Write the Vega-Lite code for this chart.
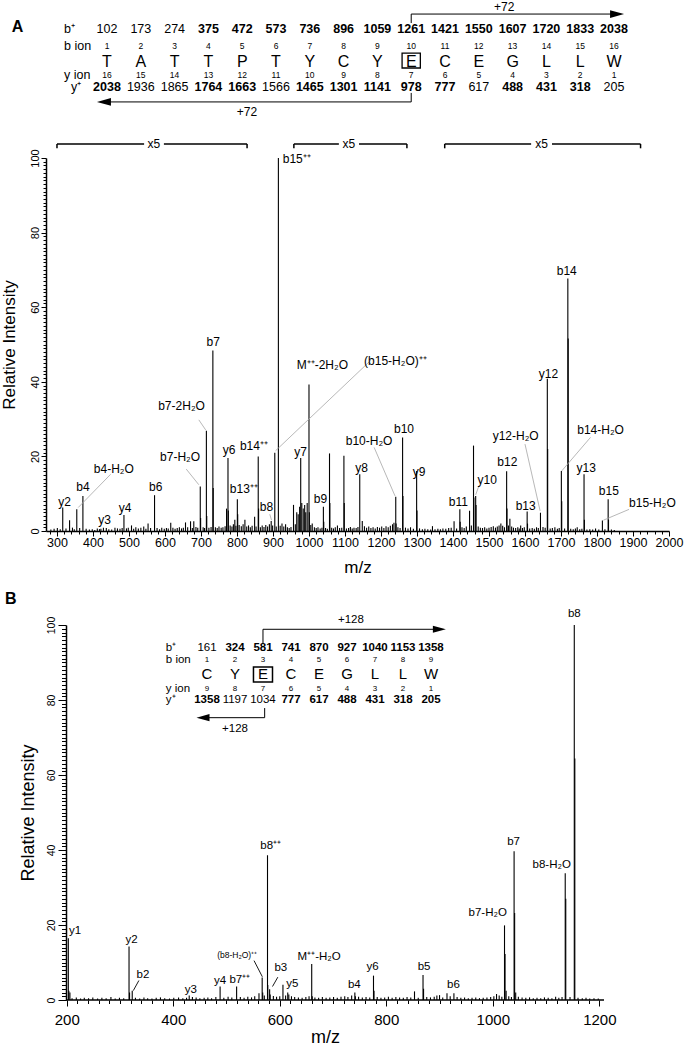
{
"$schema": "https://vega.github.io/schema/vega-lite/v6.json",
"padding": {"left": 0, "top": 0, "right": 2, "bottom": 0},
"spacing": 14,
"config": {
  "font": "Liberation Sans",
  "view": {"stroke": null},
  "axis": {"domainColor": "black", "tickColor": "black", "labelColor": "black", "titleColor": "black", "titleFontWeight": "normal", "grid": false, "domainWidth": 1.5, "tickWidth": 1, "labelOverlap": false, "labelFlush": false, "labelFont": "Liberation Sans", "titleFont": "Liberation Sans"},
  "text": {"color": "black"}
},
"datasets": {
  "specA": [
    {"mz":316,"I":6.3},{"mz":335,"I":2.9},{"mz":355,"I":5.8},{"mz":372,"I":9.4},{"mz":429,"I":0.9},{"mz":486,"I":4.3},{"mz":507,"I":1.5},{"mz":553,"I":2.0},{"mz":571,"I":9.6},{"mz":616,"I":2.2},{"mz":657,"I":2.3},{"mz":671,"I":2.6},{"mz":680,"I":2.6},{"mz":698,"I":11.9},{"mz":699,"I":3.5},{"mz":715,"I":26.9},{"mz":716,"I":4},{"mz":733,"I":48.4},{"mz":734,"I":11.5},{"mz":771,"I":6.0},{"mz":775,"I":19.6},{"mz":776,"I":5.5},{"mz":794,"I":3.0},{"mz":801,"I":8.5},{"mz":802,"I":4.5},{"mz":822,"I":3.0},{"mz":849,"I":3.8},{"mz":859,"I":20.0},{"mz":860,"I":6},{"mz":895,"I":2.7},{"mz":905,"I":21.0},{"mz":915,"I":100},{"mz":925,"I":2.0},{"mz":935,"I":1.8},{"mz":957,"I":7.0},{"mz":966,"I":5.0},{"mz":970,"I":4.5},{"mz":974,"I":6.5},{"mz":977,"I":19.6},{"mz":980,"I":7.5},{"mz":984,"I":6.0},{"mz":988,"I":7.0},{"mz":991,"I":5.0},{"mz":995,"I":7.5},{"mz":1000,"I":39.3},{"mz":1001,"I":5},{"mz":1009,"I":2},{"mz":1040,"I":6.5},{"mz":1041,"I":2.5},{"mz":1057,"I":20.8},{"mz":1058,"I":7.5},{"mz":1079,"I":1.5},{"mz":1097,"I":20.2},{"mz":1098,"I":7.5},{"mz":1141,"I":15.2},{"mz":1148,"I":2.7},{"mz":1241,"I":9.2},{"mz":1242,"I":2},{"mz":1260,"I":25.1},{"mz":1261,"I":9.4},{"mz":1299,"I":16.1},{"mz":1300,"I":5.5},{"mz":1343,"I":1.3},{"mz":1403,"I":2.6},{"mz":1419,"I":5.8},{"mz":1420,"I":2.5},{"mz":1446,"I":5.4},{"mz":1457,"I":22.9},{"mz":1458,"I":9},{"mz":1463,"I":9.4},{"mz":1464,"I":7},{"mz":1528,"I":1.5},{"mz":1549,"I":16.0},{"mz":1550,"I":6},{"mz":1558,"I":3.3},{"mz":1588,"I":1.5},{"mz":1606,"I":5.2},{"mz":1607,"I":2},{"mz":1643,"I":4.9},{"mz":1662,"I":40.8},{"mz":1663,"I":22},{"mz":1683,"I":1.0},{"mz":1701,"I":16.1},{"mz":1702,"I":8},{"mz":1719,"I":67.7},{"mz":1720,"I":51.6},{"mz":1745,"I":1.0},{"mz":1764,"I":15.2},{"mz":1765,"I":3},{"mz":1796,"I":0.7},{"mz":1815,"I":2.8},{"mz":1831,"I":8.5},{"mz":1832,"I":3},
    {"mz":283,"I":0.4},{"mz":292,"I":0.6},{"mz":301,"I":0.8},{"mz":309,"I":0.5},{"mz":325,"I":0.7},{"mz":343,"I":0.9},{"mz":348,"I":0.5},{"mz":363,"I":0.8},{"mz":381,"I":0.6},{"mz":390,"I":0.4},{"mz":398,"I":0.5},{"mz":405,"I":0.3},{"mz":412,"I":0.7},{"mz":418,"I":0.5},{"mz":422,"I":0.6},{"mz":437,"I":0.8},{"mz":444,"I":0.5},{"mz":452,"I":0.4},{"mz":461,"I":0.9},{"mz":468,"I":0.7},{"mz":475,"I":0.6},{"mz":481,"I":0.8},{"mz":493,"I":0.7},{"mz":498,"I":0.9},{"mz":513,"I":0.6},{"mz":519,"I":1.0},{"mz":526,"I":0.7},{"mz":533,"I":0.9},{"mz":541,"I":1.2},{"mz":547,"I":0.6},{"mz":560,"I":0.8},{"mz":578,"I":0.8},{"mz":585,"I":0.5},{"mz":591,"I":0.9},{"mz":598,"I":0.6},{"mz":604,"I":0.8},{"mz":609,"I":0.7},{"mz":622,"I":0.9},{"mz":628,"I":0.6},{"mz":634,"I":0.8},{"mz":640,"I":1.0},{"mz":646,"I":0.7},{"mz":651,"I":0.9},{"mz":663,"I":1.0},{"mz":676,"I":0.8},{"mz":686,"I":1.1},{"mz":691,"I":0.9},{"mz":706,"I":1.0},{"mz":710,"I":0.8},{"mz":722,"I":0.9},{"mz":728,"I":1.1},{"mz":740,"I":1.0},{"mz":745,"I":0.8},{"mz":750,"I":1.2},{"mz":756,"I":0.9},{"mz":761,"I":1.0},{"mz":767,"I":1.3},{"mz":781,"I":1.5},{"mz":786,"I":1.2},{"mz":790,"I":1.8},{"mz":797,"I":1.4},{"mz":806,"I":1.6},{"mz":812,"I":1.3},{"mz":817,"I":1.8},{"mz":827,"I":1.2},{"mz":832,"I":1.5},{"mz":837,"I":1.0},{"mz":842,"I":1.4},{"mz":853,"I":1.2},{"mz":865,"I":1.0},{"mz":870,"I":1.5},{"mz":875,"I":1.1},{"mz":880,"I":1.6},{"mz":885,"I":1.2},{"mz":890,"I":1.8},{"mz":899,"I":1.5},{"mz":909,"I":1.2},{"mz":920,"I":1.4},{"mz":930,"I":1.2},{"mz":940,"I":1.0},{"mz":945,"I":0.8},{"mz":950,"I":1.1},{"mz":962,"I":1.8},{"mz":1005,"I":1.6},{"mz":1015,"I":1.0},{"mz":1020,"I":0.8},{"mz":1025,"I":1.0},{"mz":1031,"I":0.7},{"mz":1036,"I":0.9},{"mz":1046,"I":0.8},{"mz":1051,"I":0.6},{"mz":1063,"I":0.9},{"mz":1068,"I":0.7},{"mz":1073,"I":1.0},{"mz":1085,"I":0.8},{"mz":1091,"I":0.9},{"mz":1104,"I":0.7},{"mz":1110,"I":0.8},{"mz":1115,"I":1.1},{"mz":1120,"I":0.7},{"mz":1125,"I":0.9},{"mz":1131,"I":0.8},{"mz":1136,"I":1.1},{"mz":1154,"I":1.3},{"mz":1160,"I":0.9},{"mz":1166,"I":1.2},{"mz":1172,"I":0.8},{"mz":1178,"I":1.0},{"mz":1184,"I":0.7},{"mz":1190,"I":1.1},{"mz":1196,"I":0.9},{"mz":1202,"I":1.2},{"mz":1208,"I":0.8},{"mz":1214,"I":1.3},{"mz":1220,"I":1.0},{"mz":1226,"I":1.4},{"mz":1232,"I":1.8},{"mz":1236,"I":2.2},{"mz":1247,"I":1.0},{"mz":1253,"I":0.8},{"mz":1268,"I":0.9},{"mz":1275,"I":0.7},{"mz":1282,"I":1.0},{"mz":1290,"I":0.6},{"mz":1307,"I":0.7},{"mz":1315,"I":0.5},{"mz":1322,"I":0.6},{"mz":1330,"I":0.5},{"mz":1338,"I":0.4},{"mz":1350,"I":0.5},{"mz":1358,"I":0.6},{"mz":1365,"I":0.5},{"mz":1372,"I":0.7},{"mz":1380,"I":0.6},{"mz":1388,"I":0.8},{"mz":1395,"I":0.9},{"mz":1410,"I":0.7},{"mz":1425,"I":1.0},{"mz":1431,"I":0.8},{"mz":1437,"I":1.2},{"mz":1451,"I":1.5},{"mz":1470,"I":1.2},{"mz":1476,"I":0.9},{"mz":1482,"I":0.8},{"mz":1488,"I":1.0},{"mz":1494,"I":0.7},{"mz":1500,"I":0.9},{"mz":1506,"I":1.1},{"mz":1512,"I":1.3},{"mz":1518,"I":0.9},{"mz":1523,"I":1.2},{"mz":1533,"I":2.0},{"mz":1538,"I":1.4},{"mz":1543,"I":1.0},{"mz":1554,"I":1.5},{"mz":1563,"I":1.2},{"mz":1568,"I":0.9},{"mz":1574,"I":0.8},{"mz":1580,"I":1.0},{"mz":1584,"I":0.7},{"mz":1593,"I":0.8},{"mz":1598,"I":1.0},{"mz":1613,"I":0.7},{"mz":1620,"I":0.8},{"mz":1626,"I":0.6},{"mz":1632,"I":1.0},{"mz":1637,"I":0.8},{"mz":1650,"I":1.1},{"mz":1656,"I":0.9},{"mz":1670,"I":0.7},{"mz":1676,"I":0.8},{"mz":1690,"I":0.6},{"mz":1695,"I":0.8},{"mz":1710,"I":0.7},{"mz":1727,"I":0.6},{"mz":1734,"I":0.5},{"mz":1740,"I":0.7},{"mz":1752,"I":0.5},{"mz":1758,"I":0.6},{"mz":1772,"I":0.4},{"mz":1780,"I":0.5},{"mz":1788,"I":0.4},{"mz":1805,"I":0.4},{"mz":1822,"I":0.5},{"mz":1840,"I":0.4},{"mz":1848,"I":0.3}
  ],
  "labA": [
    {"mz":321,"I":7.9,"t":"y2"},{"mz":372,"I":11.7,"t":"b4"},{"mz":458,"I":16.6,"t":"b4-H₂O"},{"mz":432,"I":2.9,"t":"y3"},{"mz":489,"I":6.3,"t":"y4"},{"mz":574,"I":11.8,"t":"b6"},{"mz":646,"I":33.6,"t":"b7-2H₂O"},{"mz":642,"I":19.9,"t":"b7-H₂O"},{"mz":734,"I":50.7,"t":"b7"},{"mz":778,"I":21.7,"t":"y6"},{"mz":847,"I":22.9,"t":"b14⁺⁺"},{"mz":819,"I":11.2,"t":"b13⁺⁺"},{"mz":882,"I":6.5,"t":"b8"},{"mz":966,"I":99.7,"t":"b15⁺⁺"},{"mz":1037,"I":44.4,"t":"M⁺⁺-2H₂O"},{"mz":977,"I":21.1,"t":"y7"},{"mz":1032,"I":8.5,"t":"b9"},{"mz":1240,"I":45.7,"t":"(b15-H₂O)⁺⁺"},{"mz":1264,"I":27.4,"t":"b10"},{"mz":1167,"I":24.2,"t":"b10-H₂O"},{"mz":1146,"I":17,"t":"y8"},{"mz":1306,"I":15.7,"t":"y9"},{"mz":1415,"I":7.8,"t":"b11"},{"mz":1495,"I":13.7,"t":"y10"},{"mz":1551,"I":18.4,"t":"b12"},{"mz":1602,"I":6.7,"t":"b13"},{"mz":1574,"I":25.6,"t":"y12-H₂O"},{"mz":1665,"I":42.2,"t":"y12"},{"mz":1810,"I":27.1,"t":"b14-H₂O"},{"mz":1716,"I":69.8,"t":"b14"},{"mz":1770,"I":17,"t":"y13"},{"mz":1833,"I":10.8,"t":"b15"},{"mz":1954,"I":7.4,"t":"b15-H₂O"}
  ],
  "leadA": [
    {"mz":449,"I":15.2,"mz2":359,"I2":6.3},{"mz":694,"I":29.8,"mz2":713,"I2":27.1},{"mz":659,"I":16.6,"mz2":694,"I2":12.4},{"mz":891,"I":4.5,"mz2":896,"I2":2.9},{"mz":1171,"I":45.7,"mz2":907,"I2":21.5},{"mz":1181,"I":22.4,"mz2":1239,"I2":9.4},{"mz":1472,"I":12.1,"mz2":1463,"I2":9.7},{"mz":1600,"I":23.3,"mz2":1642,"I2":5.4},{"mz":1782,"I":25.1,"mz2":1702,"I2":16.1},{"mz":1889,"I":5.8,"mz2":1818,"I2":2.9}
  ],
  "brA": [
    {"mz":300,"mz2":542,"I":103.75,"I2":103.75},{"mz":597,"mz2":828,"I":103.75,"I2":103.75},{"mz":300,"mz2":300,"I":103.75,"I2":102.6},{"mz":828,"mz2":828,"I":103.75,"I2":102.6},
    {"mz":958,"mz2":1083,"I":103.75,"I2":103.75},{"mz":1139,"mz2":1272,"I":103.75,"I2":103.75},{"mz":958,"mz2":958,"I":103.75,"I2":102.6},{"mz":1272,"mz2":1272,"I":103.75,"I2":102.6},
    {"mz":1377,"mz2":1617,"I":103.75,"I2":103.75},{"mz":1675,"mz2":1921,"I":103.75,"I2":103.75},{"mz":1377,"mz2":1377,"I":103.75,"I2":102.6},{"mz":1921,"mz2":1921,"I":103.75,"I2":102.6}
  ],
  "x5A": [{"mz":569,"I":103.75,"t":"x5"},{"mz":1111,"I":103.75,"t":"x5"},{"mz":1646,"I":103.75,"t":"x5"}],
  "hdrA": [
    {"pos":1,"r":4,"t":"102","kind":"val","obs":false},{"pos":2,"r":4,"t":"173","kind":"val","obs":false},{"pos":3,"r":4,"t":"274","kind":"val","obs":false},{"pos":4,"r":4,"t":"375","kind":"val","obs":true},{"pos":5,"r":4,"t":"472","kind":"val","obs":true},{"pos":6,"r":4,"t":"573","kind":"val","obs":true},{"pos":7,"r":4,"t":"736","kind":"val","obs":true},{"pos":8,"r":4,"t":"896","kind":"val","obs":true},{"pos":9,"r":4,"t":"1059","kind":"val","obs":true},{"pos":10,"r":4,"t":"1261","kind":"val","obs":true},{"pos":11,"r":4,"t":"1421","kind":"val","obs":true},{"pos":12,"r":4,"t":"1550","kind":"val","obs":true},{"pos":13,"r":4,"t":"1607","kind":"val","obs":true},{"pos":14,"r":4,"t":"1720","kind":"val","obs":true},{"pos":15,"r":4,"t":"1833","kind":"val","obs":true},{"pos":16,"r":4,"t":"2038","kind":"val","obs":true},
    {"pos":1,"r":0,"t":"2038","kind":"val","obs":true},{"pos":2,"r":0,"t":"1936","kind":"val","obs":false},{"pos":3,"r":0,"t":"1865","kind":"val","obs":false},{"pos":4,"r":0,"t":"1764","kind":"val","obs":true},{"pos":5,"r":0,"t":"1663","kind":"val","obs":true},{"pos":6,"r":0,"t":"1566","kind":"val","obs":false},{"pos":7,"r":0,"t":"1465","kind":"val","obs":true},{"pos":8,"r":0,"t":"1301","kind":"val","obs":true},{"pos":9,"r":0,"t":"1141","kind":"val","obs":true},{"pos":10,"r":0,"t":"978","kind":"val","obs":true},{"pos":11,"r":0,"t":"777","kind":"val","obs":true},{"pos":12,"r":0,"t":"617","kind":"val","obs":false},{"pos":13,"r":0,"t":"488","kind":"val","obs":true},{"pos":14,"r":0,"t":"431","kind":"val","obs":true},{"pos":15,"r":0,"t":"318","kind":"val","obs":true},{"pos":16,"r":0,"t":"205","kind":"val","obs":false},
    {"pos":1,"r":2.83,"t":"1","kind":"num"},{"pos":2,"r":2.83,"t":"2","kind":"num"},{"pos":3,"r":2.83,"t":"3","kind":"num"},{"pos":4,"r":2.83,"t":"4","kind":"num"},{"pos":5,"r":2.83,"t":"5","kind":"num"},{"pos":6,"r":2.83,"t":"6","kind":"num"},{"pos":7,"r":2.83,"t":"7","kind":"num"},{"pos":8,"r":2.83,"t":"8","kind":"num"},{"pos":9,"r":2.83,"t":"9","kind":"num"},{"pos":10,"r":2.83,"t":"10","kind":"num"},{"pos":11,"r":2.83,"t":"11","kind":"num"},{"pos":12,"r":2.83,"t":"12","kind":"num"},{"pos":13,"r":2.83,"t":"13","kind":"num"},{"pos":14,"r":2.83,"t":"14","kind":"num"},{"pos":15,"r":2.83,"t":"15","kind":"num"},{"pos":16,"r":2.83,"t":"16","kind":"num"},
    {"pos":1,"r":0.83,"t":"16","kind":"num"},{"pos":2,"r":0.83,"t":"15","kind":"num"},{"pos":3,"r":0.83,"t":"14","kind":"num"},{"pos":4,"r":0.83,"t":"13","kind":"num"},{"pos":5,"r":0.83,"t":"12","kind":"num"},{"pos":6,"r":0.83,"t":"11","kind":"num"},{"pos":7,"r":0.83,"t":"10","kind":"num"},{"pos":8,"r":0.83,"t":"9","kind":"num"},{"pos":9,"r":0.83,"t":"8","kind":"num"},{"pos":10,"r":0.83,"t":"7","kind":"num"},{"pos":11,"r":0.83,"t":"6","kind":"num"},{"pos":12,"r":0.83,"t":"5","kind":"num"},{"pos":13,"r":0.83,"t":"4","kind":"num"},{"pos":14,"r":0.83,"t":"3","kind":"num"},{"pos":15,"r":0.83,"t":"2","kind":"num"},{"pos":16,"r":0.83,"t":"1","kind":"num"},
    {"pos":1,"r":1.72,"t":"T","kind":"res"},{"pos":2,"r":1.72,"t":"A","kind":"res"},{"pos":3,"r":1.72,"t":"T","kind":"res"},{"pos":4,"r":1.72,"t":"T","kind":"res"},{"pos":5,"r":1.72,"t":"P","kind":"res"},{"pos":6,"r":1.72,"t":"T","kind":"res"},{"pos":7,"r":1.72,"t":"Y","kind":"res"},{"pos":8,"r":1.72,"t":"C","kind":"res"},{"pos":9,"r":1.72,"t":"Y","kind":"res"},{"pos":10,"r":1.72,"t":"E","kind":"res"},{"pos":11,"r":1.72,"t":"C","kind":"res"},{"pos":12,"r":1.72,"t":"E","kind":"res"},{"pos":13,"r":1.72,"t":"G","kind":"res"},{"pos":14,"r":1.72,"t":"L","kind":"res"},{"pos":15,"r":1.72,"t":"L","kind":"res"},{"pos":16,"r":1.72,"t":"W","kind":"res"},
    {"pos":-0.27,"r":4,"t":"b⁺","kind":"lab"},{"pos":-0.27,"r":2.83,"t":"b ion","kind":"lab"},{"pos":-0.27,"r":0.83,"t":"y ion","kind":"lab"},{"pos":-0.065,"r":0,"t":"y⁺","kind":"lab"},
    {"pos":12.75,"r":5.55,"t":"+72","kind":"shift"},{"pos":5.14,"r":-1.72,"t":"+72","kind":"shift"},
    {"pos":-1.65,"r":4.17,"t":"A","kind":"panel"}
  ],
  "arrA": [
    {"a":"top","pos":10,"r":4.41,"o":1},{"a":"top","pos":10,"r":5.03,"o":2},{"a":"top","pos":16.09,"r":5.03,"o":3},
    {"a":"bot","pos":10,"r":-0.41,"o":1},{"a":"bot","pos":10,"r":-1.03,"o":2},{"a":"bot","pos":0.91,"r":-1.03,"o":3}
  ],
  "headA": [{"pos":16.09,"r":5.03,"dir":"right"},{"pos":0.91,"r":-1.03,"dir":"left"}],
  "boxA": [{"pos":9.73,"pos2":10.27,"r":1.31,"r2":2.34}],
  "specB": [
    {"mz":203,"I":16.5},{"mz":204,"I":2.5},{"mz":206,"I":2.0},{"mz":317,"I":14.3},{"mz":318,"I":2},{"mz":323,"I":2.5},{"mz":430,"I":1.2},{"mz":488,"I":3.6},{"mz":519,"I":3.6},{"mz":561,"I":1.8},{"mz":567,"I":6.0},{"mz":568,"I":2},{"mz":577,"I":38.6},{"mz":577.5,"I":4},{"mz":581,"I":2.9},{"mz":582,"I":1.5},{"mz":606,"I":4.1},{"mz":615,"I":2.0},{"mz":617,"I":1.5},{"mz":660,"I":9.6},{"mz":661,"I":1.0},{"mz":741,"I":2.0},{"mz":742,"I":1.0},{"mz":776,"I":6.5},{"mz":777,"I":2.5},{"mz":853,"I":2.3},{"mz":869,"I":6.7},{"mz":870,"I":3.0},{"mz":900,"I":1.3},{"mz":914,"I":1.8},{"mz":927,"I":1.8},{"mz":1007,"I":1.6},{"mz":1022,"I":19.9},{"mz":1023,"I":12.3},{"mz":1025,"I":2.5},{"mz":1040,"I":39.7},{"mz":1041,"I":23.2},{"mz":1043,"I":2.0},{"mz":1136,"I":33.8},{"mz":1137,"I":27.0},{"mz":1153,"I":100},{"mz":1154,"I":64.4},
    {"mz":210,"I":0.5},{"mz":218,"I":0.7},{"mz":226,"I":0.4},{"mz":233,"I":0.6},{"mz":241,"I":0.5},{"mz":249,"I":0.7},{"mz":258,"I":0.4},{"mz":266,"I":0.6},{"mz":274,"I":0.5},{"mz":283,"I":0.8},{"mz":291,"I":0.4},{"mz":299,"I":0.6},{"mz":307,"I":0.5},{"mz":329,"I":0.6},{"mz":337,"I":0.4},{"mz":345,"I":0.7},{"mz":352,"I":0.5},{"mz":360,"I":0.4},{"mz":368,"I":0.6},{"mz":376,"I":0.7},{"mz":384,"I":0.5},{"mz":393,"I":0.4},{"mz":401,"I":0.6},{"mz":410,"I":0.7},{"mz":418,"I":0.5},{"mz":425,"I":0.6},{"mz":436,"I":0.8},{"mz":443,"I":0.7},{"mz":450,"I":0.5},{"mz":458,"I":0.6},{"mz":465,"I":0.7},{"mz":472,"I":0.5},{"mz":480,"I":0.8},{"mz":495,"I":0.6},{"mz":503,"I":0.9},{"mz":510,"I":0.7},{"mz":526,"I":0.8},{"mz":533,"I":0.6},{"mz":540,"I":0.9},{"mz":547,"I":0.7},{"mz":553,"I":1.0},{"mz":571,"I":1.2},{"mz":588,"I":1.1},{"mz":594,"I":0.9},{"mz":600,"I":1.0},{"mz":611,"I":1.2},{"mz":622,"I":1.0},{"mz":628,"I":0.8},{"mz":635,"I":0.7},{"mz":642,"I":0.6},{"mz":649,"I":0.8},{"mz":655,"I":1.0},{"mz":666,"I":0.7},{"mz":673,"I":0.6},{"mz":680,"I":0.8},{"mz":687,"I":0.6},{"mz":694,"I":0.7},{"mz":701,"I":0.8},{"mz":708,"I":0.6},{"mz":715,"I":0.9},{"mz":722,"I":1.0},{"mz":728,"I":0.8},{"mz":735,"I":1.2},{"mz":748,"I":0.9},{"mz":755,"I":0.7},{"mz":762,"I":0.8},{"mz":769,"I":0.7},{"mz":783,"I":0.8},{"mz":790,"I":0.6},{"mz":797,"I":0.7},{"mz":804,"I":0.9},{"mz":811,"I":0.6},{"mz":818,"I":0.8},{"mz":825,"I":0.7},{"mz":832,"I":0.6},{"mz":839,"I":0.8},{"mz":846,"I":0.7},{"mz":860,"I":0.6},{"mz":876,"I":0.8},{"mz":883,"I":0.7},{"mz":890,"I":0.9},{"mz":895,"I":1.2},{"mz":906,"I":0.7},{"mz":920,"I":1.0},{"mz":933,"I":0.8},{"mz":940,"I":0.6},{"mz":947,"I":0.7},{"mz":954,"I":0.5},{"mz":961,"I":0.6},{"mz":968,"I":0.7},{"mz":975,"I":0.5},{"mz":982,"I":0.6},{"mz":989,"I":0.7},{"mz":996,"I":0.8},{"mz":1002,"I":1.0},{"mz":1012,"I":1.2},{"mz":1017,"I":0.9},{"mz":1030,"I":1.0},{"mz":1035,"I":0.8},{"mz":1048,"I":0.9},{"mz":1055,"I":0.7},{"mz":1062,"I":0.6},{"mz":1069,"I":0.7},{"mz":1076,"I":0.5},{"mz":1083,"I":0.6},{"mz":1090,"I":0.5},{"mz":1097,"I":0.7},{"mz":1104,"I":0.6},{"mz":1111,"I":0.5},{"mz":1118,"I":0.9},{"mz":1124,"I":0.6},{"mz":1130,"I":0.8},{"mz":1145,"I":0.8},{"mz":1160,"I":0.6},{"mz":1168,"I":0.5},{"mz":1175,"I":0.6},{"mz":1182,"I":0.4},{"mz":1190,"I":0.5},{"mz":1198,"I":0.4}
  ],
  "labB": [
    {"mz":215.6,"I":18.3,"t":"y1","kind":"ion"},{"mz":322,"I":15.9,"t":"y2","kind":"ion"},{"mz":343,"I":6.8,"t":"b2","kind":"ion"},{"mz":433,"I":2.7,"t":"y3","kind":"ion"},{"mz":488,"I":5.0,"t":"y4","kind":"ion"},{"mz":525,"I":5.3,"t":"b7⁺⁺","kind":"ion"},{"mz":520,"I":12,"t":"(b8-H₂O)⁺⁺","kind":"small"},{"mz":583,"I":41.2,"t":"b8⁺⁺","kind":"ion"},{"mz":602,"I":8.5,"t":"b3","kind":"ion"},{"mz":623.6,"I":4.3,"t":"y5","kind":"ion"},{"mz":674,"I":11.4,"t":"M⁺⁺-H₂O","kind":"ion"},{"mz":740,"I":4.1,"t":"b4","kind":"ion"},{"mz":774.5,"I":8.9,"t":"y6","kind":"ion"},{"mz":871,"I":8.9,"t":"b5","kind":"ion"},{"mz":926,"I":4.1,"t":"b6","kind":"ion"},{"mz":990.5,"I":23.2,"t":"b7-H₂O","kind":"ion"},{"mz":1039,"I":42.1,"t":"b7","kind":"ion"},{"mz":1110.6,"I":35.9,"t":"b8-H₂O","kind":"ion"},{"mz":1153,"I":102.9,"t":"b8","kind":"ion"},
    {"mz":94.9,"I":107,"t":"B","kind":"panel"}
  ],
  "leadB": [
    {"mz":335.5,"I":5.2,"mz2":325,"I2":2.5},{"mz":551.7,"I":10.5,"mz2":567.3,"I2":6.2},{"mz":596.4,"I":6.1,"mz2":586.4,"I2":3.6}
  ],
  "hdrB": [
    {"pos":1,"r":4,"t":"161","kind":"val","obs":false},{"pos":2,"r":4,"t":"324","kind":"val","obs":true},{"pos":3,"r":4,"t":"581","kind":"val","obs":true},{"pos":4,"r":4,"t":"741","kind":"val","obs":true},{"pos":5,"r":4,"t":"870","kind":"val","obs":true},{"pos":6,"r":4,"t":"927","kind":"val","obs":true},{"pos":7,"r":4,"t":"1040","kind":"val","obs":true},{"pos":8,"r":4,"t":"1153","kind":"val","obs":true},{"pos":9,"r":4,"t":"1358","kind":"val","obs":true},
    {"pos":1,"r":0,"t":"1358","kind":"val","obs":true},{"pos":2,"r":0,"t":"1197","kind":"val","obs":false},{"pos":3,"r":0,"t":"1034","kind":"val","obs":false},{"pos":4,"r":0,"t":"777","kind":"val","obs":true},{"pos":5,"r":0,"t":"617","kind":"val","obs":true},{"pos":6,"r":0,"t":"488","kind":"val","obs":true},{"pos":7,"r":0,"t":"431","kind":"val","obs":true},{"pos":8,"r":0,"t":"318","kind":"val","obs":true},{"pos":9,"r":0,"t":"205","kind":"val","obs":true},
    {"pos":1,"r":3.08,"t":"1","kind":"num"},{"pos":2,"r":3.08,"t":"2","kind":"num"},{"pos":3,"r":3.08,"t":"3","kind":"num"},{"pos":4,"r":3.08,"t":"4","kind":"num"},{"pos":5,"r":3.08,"t":"5","kind":"num"},{"pos":6,"r":3.08,"t":"6","kind":"num"},{"pos":7,"r":3.08,"t":"7","kind":"num"},{"pos":8,"r":3.08,"t":"8","kind":"num"},{"pos":9,"r":3.08,"t":"9","kind":"num"},
    {"pos":1,"r":0.85,"t":"9","kind":"num"},{"pos":2,"r":0.85,"t":"8","kind":"num"},{"pos":3,"r":0.85,"t":"7","kind":"num"},{"pos":4,"r":0.85,"t":"6","kind":"num"},{"pos":5,"r":0.85,"t":"5","kind":"num"},{"pos":6,"r":0.85,"t":"4","kind":"num"},{"pos":7,"r":0.85,"t":"3","kind":"num"},{"pos":8,"r":0.85,"t":"2","kind":"num"},{"pos":9,"r":0.85,"t":"1","kind":"num"},
    {"pos":1,"r":2,"t":"C","kind":"res"},{"pos":2,"r":2,"t":"Y","kind":"res"},{"pos":3,"r":2,"t":"E","kind":"res"},{"pos":4,"r":2,"t":"C","kind":"res"},{"pos":5,"r":2,"t":"E","kind":"res"},{"pos":6,"r":2,"t":"G","kind":"res"},{"pos":7,"r":2,"t":"L","kind":"res"},{"pos":8,"r":2,"t":"L","kind":"res"},{"pos":9,"r":2,"t":"W","kind":"res"},
    {"pos":-0.47,"r":4,"t":"b⁺","kind":"lab"},{"pos":-0.47,"r":3.08,"t":"b ion","kind":"lab"},{"pos":-0.47,"r":0.85,"t":"y ion","kind":"lab"},{"pos":-0.47,"r":0,"t":"y⁺","kind":"lab"},
    {"pos":6.14,"r":6.15,"t":"+128","kind":"shift"},{"pos":2.0,"r":-2.23,"t":"+128","kind":"shift"}
  ],
  "arrB": [
    {"a":"top","pos":3,"r":4.33,"o":1},{"a":"top","pos":3,"r":5.44,"o":2},{"a":"top","pos":9.3,"r":5.44,"o":3},
    {"a":"bot","pos":3.06,"r":-0.62,"o":1},{"a":"bot","pos":3.06,"r":-1.36,"o":2},{"a":"bot","pos":0.857,"r":-1.36,"o":3}
  ],
  "headB": [{"pos":9.3,"r":5.44,"dir":"right"},{"pos":0.857,"r":-1.36,"dir":"left"}],
  "boxB": [{"pos":2.66,"pos2":3.34,"r":1.38,"r2":2.54}]
},
"vconcat": [
  {
    "width": 623, "height": 373,
    "layer": [
      {"data": {"name": "specA"},
       "mark": {"type": "rule", "strokeWidth": 1.1, "color": "black"},
       "encoding": {
         "x": {"field": "mz", "type": "quantitative", "scale": {"domain": [269.5, 2000], "nice": false, "zero": false},
               "axis": {"title": "m/z", "orient": "bottom", "values": [280,300,320,340,360,380,400,420,440,460,480,500,520,540,560,580,600,620,640,660,680,700,720,740,760,780,800,820,840,860,880,900,920,940,960,980,1000,1020,1040,1060,1080,1100,1120,1140,1160,1180,1200,1220,1240,1260,1280,1300,1320,1340,1360,1380,1400,1420,1440,1460,1480,1500,1520,1540,1560,1580,1600,1620,1640,1660,1680,1700,1720,1740,1760,1780,1800,1820,1840,1860,1880,1900,1920,1940,1960,1980,2000],
                        "format": "d", "labelExpr": "datum.value % 100 === 0 ? datum.label : ''",
                        "tickSize": {"condition": {"test": "datum.value % 100 === 0", "value": 5}, "value": 3},
                        "labelFontSize": 12.5, "labelPadding": 0, "titlePadding": 11, "titleFontSize": 17}},
         "y": {"field": "I", "type": "quantitative", "scale": {"domain": [0, 100], "nice": false, "zero": false},
               "axis": {"title": "Relative Intensity", "orient": "left", "values": [0,1,2,3,4,5,6,7,8,9,10,11,12,13,14,15,16,17,18,19,20,21,22,23,24,25,26,27,28,29,30,31,32,33,34,35,36,37,38,39,40,41,42,43,44,45,46,47,48,49,50,51,52,53,54,55,56,57,58,59,60,61,62,63,64,65,66,67,68,69,70,71,72,73,74,75,76,77,78,79,80,81,82,83,84,85,86,87,88,89,90,91,92,93,94,95,96,97,98,99,100],
                        "format": "d", "labelExpr": "datum.value % 20 === 0 ? datum.label : ''",
                        "tickSize": {"condition": {"test": "datum.value % 20 === 0", "value": 5}, "value": 3},
                        "labelAngle": 270, "labelAlign": "center", "labelBaseline": "bottom",
                        "labelFontSize": 11, "labelPadding": 1, "titlePadding": 10.5, "titleFontSize": 17}},
         "y2": {"datum": 0}
       }},
      {"data": {"name": "leadA"},
       "mark": {"type": "rule", "color": "#a6a6a6", "strokeWidth": 0.8},
       "encoding": {"x": {"field": "mz", "type": "quantitative", "scale": {"domain": [269.5, 2000], "nice": false, "zero": false}, "axis": null}, "x2": {"field": "mz2"}, "y": {"field": "I", "type": "quantitative", "scale": {"domain": [0, 100], "nice": false, "zero": false}, "axis": null}, "y2": {"field": "I2"}}},
      {"data": {"name": "labA"},
       "mark": {"type": "text", "fontSize": 12},
       "encoding": {"x": {"field": "mz", "type": "quantitative", "scale": {"domain": [269.5, 2000], "nice": false, "zero": false}, "axis": null}, "y": {"field": "I", "type": "quantitative", "scale": {"domain": [0, 100], "nice": false, "zero": false}, "axis": null}, "text": {"field": "t"}}},
      {"data": {"name": "brA"},
       "mark": {"type": "rule", "strokeWidth": 1.5, "color": "black"},
       "encoding": {"x": {"field": "mz", "type": "quantitative", "scale": {"domain": [269.5, 2000], "nice": false, "zero": false}, "axis": null}, "x2": {"field": "mz2"}, "y": {"field": "I", "type": "quantitative", "scale": {"domain": [0, 100], "nice": false, "zero": false}, "axis": null}, "y2": {"field": "I2"}}},
      {"data": {"name": "x5A"},
       "mark": {"type": "text", "fontSize": 12},
       "encoding": {"x": {"field": "mz", "type": "quantitative", "scale": {"domain": [269.5, 2000], "nice": false, "zero": false}, "axis": null}, "y": {"field": "I", "type": "quantitative", "scale": {"domain": [0, 100], "nice": false, "zero": false}, "axis": null}, "text": {"field": "t"}}},
      {"data": {"name": "hdrA"}, "transform": [{"filter": "datum.kind === 'val' && datum.obs"}],
       "mark": {"type": "text", "fontSize": 12.5, "fontWeight": "bold"},
       "encoding": {"x": {"field": "pos", "type": "quantitative", "scale": {"domain": [-0.805, 17.627], "nice": false, "zero": false}, "axis": null},
                    "y": {"field": "r", "type": "quantitative", "scale": {"domain": [-30.62, -4.897], "nice": false, "zero": false}, "axis": null},
                    "text": {"field": "t"}}},
      {"data": {"name": "hdrA"}, "transform": [{"filter": "datum.kind === 'val' && !datum.obs"}],
       "mark": {"type": "text", "fontSize": 12.5},
       "encoding": {"x": {"field": "pos", "type": "quantitative", "scale": {"domain": [-0.805, 17.627], "nice": false, "zero": false}, "axis": null},
                    "y": {"field": "r", "type": "quantitative", "scale": {"domain": [-30.62, -4.897], "nice": false, "zero": false}, "axis": null},
                    "text": {"field": "t"}}},
      {"data": {"name": "hdrA"}, "transform": [{"filter": "datum.kind === 'num'"}],
       "mark": {"type": "text", "fontSize": 8.5},
       "encoding": {"x": {"field": "pos", "type": "quantitative", "scale": {"domain": [-0.805, 17.627], "nice": false, "zero": false}, "axis": null},
                    "y": {"field": "r", "type": "quantitative", "scale": {"domain": [-30.62, -4.897], "nice": false, "zero": false}, "axis": null},
                    "text": {"field": "t"}}},
      {"data": {"name": "hdrA"}, "transform": [{"filter": "datum.kind === 'res'"}],
       "mark": {"type": "text", "fontSize": 16},
       "encoding": {"x": {"field": "pos", "type": "quantitative", "scale": {"domain": [-0.805, 17.627], "nice": false, "zero": false}, "axis": null},
                    "y": {"field": "r", "type": "quantitative", "scale": {"domain": [-30.62, -4.897], "nice": false, "zero": false}, "axis": null},
                    "text": {"field": "t"}}},
      {"data": {"name": "hdrA"}, "transform": [{"filter": "datum.kind === 'lab'"}],
       "mark": {"type": "text", "fontSize": 12.5, "align": "left"},
       "encoding": {"x": {"field": "pos", "type": "quantitative", "scale": {"domain": [-0.805, 17.627], "nice": false, "zero": false}, "axis": null},
                    "y": {"field": "r", "type": "quantitative", "scale": {"domain": [-30.62, -4.897], "nice": false, "zero": false}, "axis": null},
                    "text": {"field": "t"}}},
      {"data": {"name": "hdrA"}, "transform": [{"filter": "datum.kind === 'shift'"}],
       "mark": {"type": "text", "fontSize": 12},
       "encoding": {"x": {"field": "pos", "type": "quantitative", "scale": {"domain": [-0.805, 17.627], "nice": false, "zero": false}, "axis": null},
                    "y": {"field": "r", "type": "quantitative", "scale": {"domain": [-30.62, -4.897], "nice": false, "zero": false}, "axis": null},
                    "text": {"field": "t"}}},
      {"data": {"name": "hdrA"}, "transform": [{"filter": "datum.kind === 'panel'"}],
       "mark": {"type": "text", "fontSize": 16, "fontWeight": "bold"},
       "encoding": {"x": {"field": "pos", "type": "quantitative", "scale": {"domain": [-0.805, 17.627], "nice": false, "zero": false}, "axis": null},
                    "y": {"field": "r", "type": "quantitative", "scale": {"domain": [-30.62, -4.897], "nice": false, "zero": false}, "axis": null},
                    "text": {"field": "t"}}},
      {"data": {"name": "arrA"},
       "mark": {"type": "line", "strokeWidth": 1, "color": "black"},
       "encoding": {"x": {"field": "pos", "type": "quantitative", "scale": {"domain": [-0.805, 17.627], "nice": false, "zero": false}, "axis": null},
                    "y": {"field": "r", "type": "quantitative", "scale": {"domain": [-30.62, -4.897], "nice": false, "zero": false}, "axis": null},
                    "detail": {"field": "a"}, "order": {"field": "o"}}},
      {"data": {"name": "headA"},
       "mark": {"type": "point", "filled": true, "color": "black", "size": 196, "opacity": 1},
       "encoding": {"x": {"field": "pos", "type": "quantitative", "scale": {"domain": [-0.805, 17.627], "nice": false, "zero": false}, "axis": null},
                    "y": {"field": "r", "type": "quantitative", "scale": {"domain": [-30.62, -4.897], "nice": false, "zero": false}, "axis": null},
                    "shape": {"field": "dir", "type": "nominal", "scale": {"domain": ["right", "left"], "range": ["M-1,-0.55L1,0L-1,0.55Z", "M1,-0.55L-1,0L1,0.55Z"]}, "legend": null}}},
      {"data": {"name": "boxA"},
       "mark": {"type": "rect", "fillOpacity": 0, "stroke": "black", "strokeWidth": 1.3},
       "encoding": {"x": {"field": "pos", "type": "quantitative", "scale": {"domain": [-0.805, 17.627], "nice": false, "zero": false}, "axis": null}, "x2": {"field": "pos2"},
                    "y": {"field": "r", "type": "quantitative", "scale": {"domain": [-30.62, -4.897], "nice": false, "zero": false}, "axis": null}, "y2": {"field": "r2"}}}
    ],
    "resolve": {"scale": {"x": "independent", "y": "independent", "shape": "independent"}}
  },
  {
    "width": 558, "height": 375,
    "layer": [
      {"data": {"name": "specB"},
       "mark": {"type": "rule", "strokeWidth": 1.1, "color": "black"},
       "encoding": {
         "x": {"field": "mz", "type": "quantitative", "scale": {"domain": [161.1, 1208.8], "nice": false, "zero": false},
               "axis": {"title": "m/z", "orient": "bottom", "domain": false, "values": [200,220,240,260,280,300,320,340,360,380,400,420,440,460,480,500,520,540,560,580,600,620,640,660,680,700,720,740,760,780,800,820,840,860,880,900,920,940,960,980,1000,1020,1040,1060,1080,1100,1120,1140,1160,1180,1200],
                        "format": "d", "labelExpr": "datum.value % 200 === 0 ? datum.label : ''",
                        "tickSize": {"condition": {"test": "datum.value % 200 === 0", "value": 6}, "value": 3.5},
                        "labelFontSize": 15, "labelPadding": 6, "titlePadding": 1, "titleFontSize": 18}},
         "y": {"field": "I", "type": "quantitative", "scale": {"domain": [0, 100], "nice": false, "zero": false},
               "axis": {"title": "Relative Intensity", "orient": "left", "offset": -20, "values": [0,1,2,3,4,5,6,7,8,9,10,11,12,13,14,15,16,17,18,19,20,21,22,23,24,25,26,27,28,29,30,31,32,33,34,35,36,37,38,39,40,41,42,43,44,45,46,47,48,49,50,51,52,53,54,55,56,57,58,59,60,61,62,63,64,65,66,67,68,69,70,71,72,73,74,75,76,77,78,79,80,81,82,83,84,85,86,87,88,89,90,91,92,93,94,95,96,97,98,99,100],
                        "format": "d", "labelExpr": "datum.value % 20 === 0 ? datum.label : ''",
                        "tickSize": {"condition": {"test": "datum.value % 20 === 0", "value": 8}, "value": 4.5},
                        "labelAngle": 270, "labelAlign": "center", "labelBaseline": "bottom",
                        "labelFontSize": 10.5, "labelPadding": 2, "titlePadding": 9, "titleFontSize": 18}},
         "y2": {"datum": 0}
       }},
      {"data": {"values": [{}]},
       "mark": {"type": "rule", "strokeWidth": 1.5, "color": "black"},
       "encoding": {"x": {"datum": 198.6, "type": "quantitative", "scale": {"domain": [161.1, 1208.8], "nice": false, "zero": false}, "axis": null}, "x2": {"datum": 1208.8}, "y": {"datum": 0, "type": "quantitative", "scale": {"domain": [0, 100], "nice": false, "zero": false}, "axis": null}}},
      {"data": {"name": "leadB"},
       "mark": {"type": "rule", "color": "black", "strokeWidth": 0.9},
       "encoding": {"x": {"field": "mz", "type": "quantitative", "scale": {"domain": [161.1, 1208.8], "nice": false, "zero": false}, "axis": null}, "x2": {"field": "mz2"}, "y": {"field": "I", "type": "quantitative", "scale": {"domain": [0, 100], "nice": false, "zero": false}, "axis": null}, "y2": {"field": "I2"}}},
      {"data": {"name": "labB"}, "transform": [{"filter": "datum.kind === 'ion'"}],
       "mark": {"type": "text", "fontSize": 11.5},
       "encoding": {"x": {"field": "mz", "type": "quantitative", "scale": {"domain": [161.1, 1208.8], "nice": false, "zero": false}, "axis": null}, "y": {"field": "I", "type": "quantitative", "scale": {"domain": [0, 100], "nice": false, "zero": false}, "axis": null}, "text": {"field": "t"}}},
      {"data": {"name": "labB"}, "transform": [{"filter": "datum.kind === 'small'"}],
       "mark": {"type": "text", "fontSize": 8.5},
       "encoding": {"x": {"field": "mz", "type": "quantitative", "scale": {"domain": [161.1, 1208.8], "nice": false, "zero": false}, "axis": null}, "y": {"field": "I", "type": "quantitative", "scale": {"domain": [0, 100], "nice": false, "zero": false}, "axis": null}, "text": {"field": "t"}}},
      {"data": {"name": "labB"}, "transform": [{"filter": "datum.kind === 'panel'"}],
       "mark": {"type": "text", "fontSize": 16, "fontWeight": "bold"},
       "encoding": {"x": {"field": "mz", "type": "quantitative", "scale": {"domain": [161.1, 1208.8], "nice": false, "zero": false}, "axis": null}, "y": {"field": "I", "type": "quantitative", "scale": {"domain": [0, 100], "nice": false, "zero": false}, "axis": null}, "text": {"field": "t"}}},
      {"data": {"name": "hdrB"}, "transform": [{"filter": "datum.kind === 'val' && datum.obs"}],
       "mark": {"type": "text", "fontSize": 11.5, "fontWeight": "bold"},
       "encoding": {"x": {"field": "pos", "type": "quantitative", "scale": {"domain": [-4.75, 15.18], "nice": false, "zero": false}, "axis": null},
                    "y": {"field": "r", "type": "quantitative", "scale": {"domain": [-23.08, 5.77], "nice": false, "zero": false}, "axis": null},
                    "text": {"field": "t"}}},
      {"data": {"name": "hdrB"}, "transform": [{"filter": "datum.kind === 'val' && !datum.obs"}],
       "mark": {"type": "text", "fontSize": 11.5},
       "encoding": {"x": {"field": "pos", "type": "quantitative", "scale": {"domain": [-4.75, 15.18], "nice": false, "zero": false}, "axis": null},
                    "y": {"field": "r", "type": "quantitative", "scale": {"domain": [-23.08, 5.77], "nice": false, "zero": false}, "axis": null},
                    "text": {"field": "t"}}},
      {"data": {"name": "hdrB"}, "transform": [{"filter": "datum.kind === 'num'"}],
       "mark": {"type": "text", "fontSize": 8},
       "encoding": {"x": {"field": "pos", "type": "quantitative", "scale": {"domain": [-4.75, 15.18], "nice": false, "zero": false}, "axis": null},
                    "y": {"field": "r", "type": "quantitative", "scale": {"domain": [-23.08, 5.77], "nice": false, "zero": false}, "axis": null},
                    "text": {"field": "t"}}},
      {"data": {"name": "hdrB"}, "transform": [{"filter": "datum.kind === 'res'"}],
       "mark": {"type": "text", "fontSize": 15},
       "encoding": {"x": {"field": "pos", "type": "quantitative", "scale": {"domain": [-4.75, 15.18], "nice": false, "zero": false}, "axis": null},
                    "y": {"field": "r", "type": "quantitative", "scale": {"domain": [-23.08, 5.77], "nice": false, "zero": false}, "axis": null},
                    "text": {"field": "t"}}},
      {"data": {"name": "hdrB"}, "transform": [{"filter": "datum.kind === 'lab'"}],
       "mark": {"type": "text", "fontSize": 11.5, "align": "left"},
       "encoding": {"x": {"field": "pos", "type": "quantitative", "scale": {"domain": [-4.75, 15.18], "nice": false, "zero": false}, "axis": null},
                    "y": {"field": "r", "type": "quantitative", "scale": {"domain": [-23.08, 5.77], "nice": false, "zero": false}, "axis": null},
                    "text": {"field": "t"}}},
      {"data": {"name": "hdrB"}, "transform": [{"filter": "datum.kind === 'shift'"}],
       "mark": {"type": "text", "fontSize": 11.5},
       "encoding": {"x": {"field": "pos", "type": "quantitative", "scale": {"domain": [-4.75, 15.18], "nice": false, "zero": false}, "axis": null},
                    "y": {"field": "r", "type": "quantitative", "scale": {"domain": [-23.08, 5.77], "nice": false, "zero": false}, "axis": null},
                    "text": {"field": "t"}}},
      {"data": {"name": "arrB"},
       "mark": {"type": "line", "strokeWidth": 1, "color": "black"},
       "encoding": {"x": {"field": "pos", "type": "quantitative", "scale": {"domain": [-4.75, 15.18], "nice": false, "zero": false}, "axis": null},
                    "y": {"field": "r", "type": "quantitative", "scale": {"domain": [-23.08, 5.77], "nice": false, "zero": false}, "axis": null},
                    "detail": {"field": "a"}, "order": {"field": "o"}}},
      {"data": {"name": "headB"},
       "mark": {"type": "point", "filled": true, "color": "black", "size": 169, "opacity": 1},
       "encoding": {"x": {"field": "pos", "type": "quantitative", "scale": {"domain": [-4.75, 15.18], "nice": false, "zero": false}, "axis": null},
                    "y": {"field": "r", "type": "quantitative", "scale": {"domain": [-23.08, 5.77], "nice": false, "zero": false}, "axis": null},
                    "shape": {"field": "dir", "type": "nominal", "scale": {"domain": ["right", "left"], "range": ["M-1,-0.55L1,0L-1,0.55Z", "M1,-0.55L-1,0L1,0.55Z"]}, "legend": null}}},
      {"data": {"name": "boxB"},
       "mark": {"type": "rect", "fillOpacity": 0, "stroke": "black", "strokeWidth": 1.5},
       "encoding": {"x": {"field": "pos", "type": "quantitative", "scale": {"domain": [-4.75, 15.18], "nice": false, "zero": false}, "axis": null}, "x2": {"field": "pos2"},
                    "y": {"field": "r", "type": "quantitative", "scale": {"domain": [-23.08, 5.77], "nice": false, "zero": false}, "axis": null}, "y2": {"field": "r2"}}}
    ],
    "resolve": {"scale": {"x": "independent", "y": "independent", "shape": "independent"}}
  }
]
}
